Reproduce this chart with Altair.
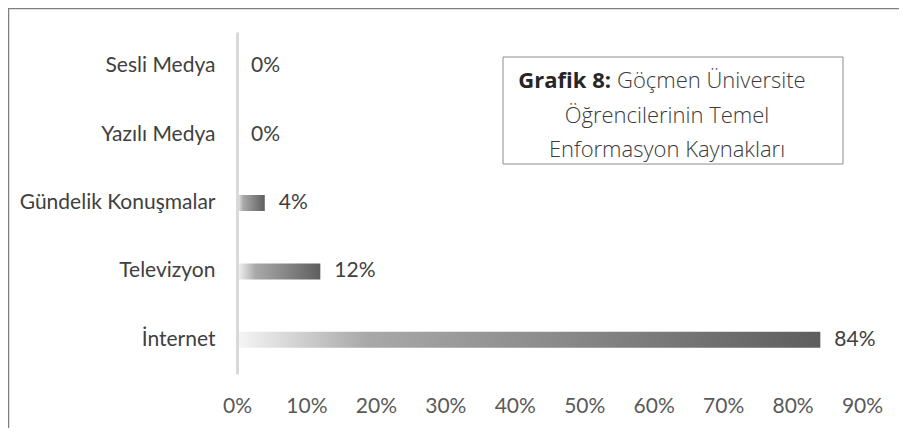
import altair as alt
import pandas as pd

categories = ["Sesli Medya", "Yazılı Medya", "Gündelik Konuşmalar", "Televizyon", "İnternet"]
values = [0, 0, 4, 12, 84]
x_ticks = [0, 10, 20, 30, 40, 50, 60, 70, 80, 90]
title_bold = "Grafik 8:"
title_line1 = "Göçmen Üniversite"
title_line2 = "Öğrencilerinin Temel"
title_line3 = "Enformasyon Kaynakları"

df = pd.DataFrame({"category": categories, "value": values,
                   "label": [f"{v}%" for v in values]})

W, H = 625, 342
FONT = "Lato"
FS = 21
TFONT = "Open Sans"
TFS = 22

y_enc = alt.Y(
    "category:N", sort=categories, title=None,
    scale=alt.Scale(paddingInner=0, paddingOuter=0),
    axis=alt.Axis(domainColor="#d9d9d9", domainWidth=3, ticks=False, tickSize=0,
                  labelFont=FONT, labelFontSize=FS, labelColor="#404040",
                  labelPadding=22, labelLimit=300, zindex=1),
)
x_enc = alt.X(
    "value:Q", title=None,
    scale=alt.Scale(domain=[0, 90], nice=False, zero=True),
    axis=alt.Axis(values=x_ticks, labelExpr="datum.value + '%'", domain=False,
                  ticks=False, tickSize=0, grid=False, labelFont=FONT,
                  labelFontSize=FS, labelColor="#595959", labelPadding=21,
                  labelFlush=False, labelOverlap=False),
)

grad = alt.Gradient(
    gradient="linear",
    stops=[alt.GradientStop(color="#f6f6f6", offset=0),
           alt.GradientStop(color="#a9a9a9", offset=0.22),
           alt.GradientStop(color="#8a8a8a", offset=0.55),
           alt.GradientStop(color="#5e5e5e", offset=1)],
    x1=0, x2=1, y1=0, y2=0,
)

base = alt.Chart(df)

frame = base.transform_filter("datum.value == 84").mark_rect(
    fillOpacity=0, stroke="#808080", strokeWidth=1.5
).encode(x=alt.value(-228.5), x2=alt.value(900), y=alt.value(-23.5), y2=alt.value(700))

bars = base.mark_bar(color=grad, size=16).encode(x=x_enc, y=y_enc)

labels = base.mark_text(align="left", baseline="middle", dx=14, font=FONT,
                        fontSize=FS, color="#404040").encode(
    x="value:Q", y=alt.Y("category:N", sort=categories), text="label:N")

tb = pd.DataFrame({"t": [title_bold]})
box = alt.Chart(tb).mark_rect(fill="white", stroke="#8c8c8c", strokeWidth=1).encode(
    x=alt.value(266), x2=alt.value(606), y=alt.value(25), y2=alt.value(132))

t_bold = alt.Chart(tb).mark_text(align="right", baseline="alphabetic", font=TFONT,
                                 fontWeight="bold", fontSize=TFS, color="#262626").encode(
    x=alt.value(374), y=alt.value(56), text="t:N")

def light(txt, x, y, align):
    return alt.Chart(pd.DataFrame({"t": [txt]})).mark_text(
        align=align, baseline="alphabetic", font=TFONT, fontWeight=300,
        fontSize=TFS, color="#3a3a3a").encode(x=alt.value(x), y=alt.value(y), text="t:N")

t1 = light(title_line1, 380, 56, "left")
t2 = light(title_line2, 430, 91, "center")
t3 = light(title_line3, 430, 125, "center")

chart = alt.layer(frame, bars, labels, box, t_bold, t1, t2, t3).properties(
    width=W, height=H,
    autosize=alt.AutoSizeParams(type="none"),
    padding={"left": 229, "top": 24, "right": 37, "bottom": 54},
).configure_view(stroke=None)

chart.save("out.html", embed_options={"renderer": "svg", "actions": False})
